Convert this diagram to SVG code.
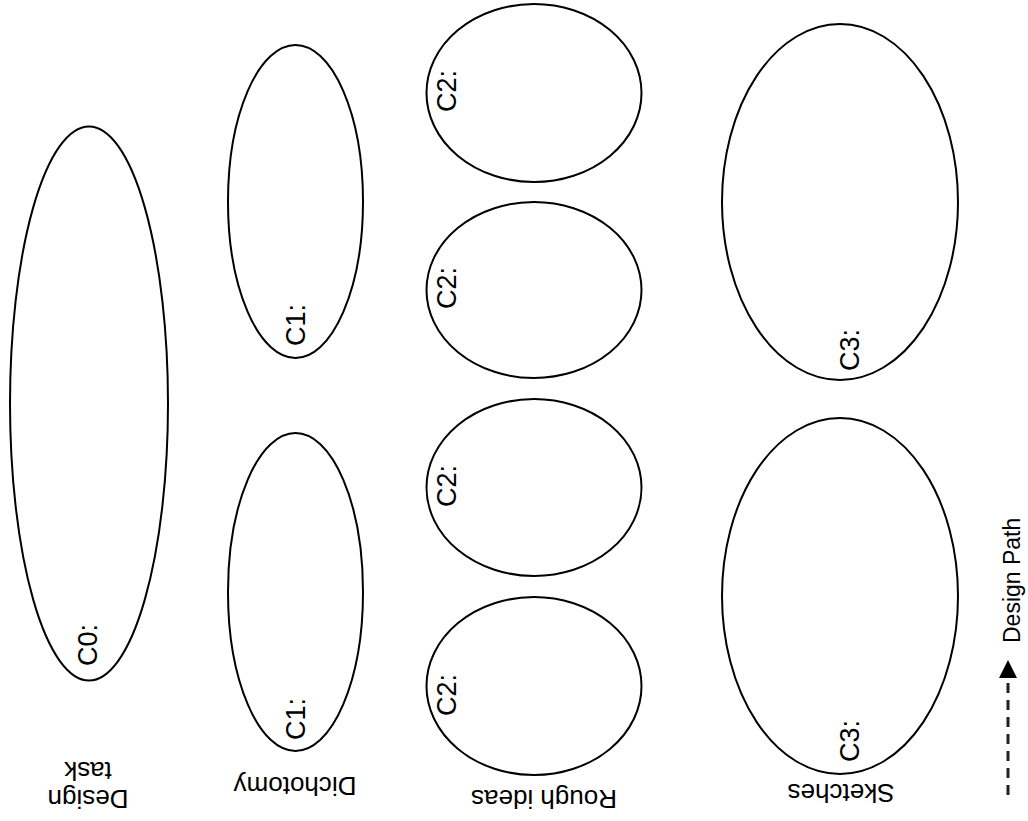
<svg xmlns="http://www.w3.org/2000/svg" width="1028" height="821" viewBox="0 0 1028 821">
<style>
.n{fill:#fff;stroke:#000;stroke-width:2}
.t{font-family:"Liberation Sans",Arial,sans-serif;font-size:26px;fill:#000}
.c{font-family:"Liberation Sans",Arial,sans-serif;font-size:27px;fill:#000}
.p{font-family:"Liberation Sans",Arial,sans-serif;font-size:23px;fill:#000}
.conn{stroke:#222;stroke-width:3;fill:none;stroke-dasharray:10 7}
</style>
<defs>
<marker id="ah" markerWidth="6" markerHeight="6" refX="0" refY="3" orient="auto" markerUnits="strokeWidth" viewBox="0 0 6 6">
<path d="M0,0 L6,3 L0,6 z" fill="#000"/>
</marker>
</defs>
<rect width="1028" height="821" fill="#fff"/>
<g id="c0"><ellipse class="n" cx="89" cy="403.5" rx="79" ry="277"/><text class="c" transform="translate(97,666) rotate(-90)">C0:</text></g>
<g id="c1a"><ellipse class="n" cx="295.5" cy="201.5" rx="67.5" ry="156.5"/><text class="c" transform="translate(305,346) rotate(-90)">C1:</text></g>
<g id="c1b"><ellipse class="n" cx="295.5" cy="592" rx="67.5" ry="159"/><text class="c" transform="translate(305,740) rotate(-90)">C1:</text></g>
<g id="c2a"><ellipse class="n" cx="534" cy="93" rx="107.5" ry="89"/><text class="c" transform="translate(456,112) rotate(-90)">C2:</text></g>
<g id="c2b"><ellipse class="n" cx="534" cy="290" rx="107.5" ry="88"/><text class="c" transform="translate(456,309) rotate(-90)">C2:</text></g>
<g id="c2c"><ellipse class="n" cx="534" cy="487.5" rx="107.5" ry="88.5"/><text class="c" transform="translate(456,507) rotate(-90)">C2:</text></g>
<g id="c2d"><ellipse class="n" cx="534" cy="686" rx="107.5" ry="89"/><text class="c" transform="translate(456,716) rotate(-90)">C2:</text></g>
<g id="c3a"><ellipse class="n" cx="840" cy="202" rx="118" ry="178"/><text class="c" transform="translate(859,371) rotate(-90)">C3:</text></g>
<g id="c3b"><ellipse class="n" cx="840" cy="596" rx="118" ry="178"/><text class="c" transform="translate(859,762) rotate(-90)">C3:</text></g>
<g id="labels">
<text class="t" text-anchor="middle" transform="translate(88,790) rotate(180)"><tspan x="0" y="0">Design</tspan><tspan x="0" y="28">task</tspan></text>
<text class="t" text-anchor="middle" transform="translate(295,777) rotate(180)">Dichotomy</text>
<text class="t" text-anchor="middle" transform="translate(544,790) rotate(180)">Rough ideas</text>
<text class="t" text-anchor="middle" transform="translate(841,784) rotate(180)">Sketches</text>
<text class="p" transform="translate(1020,643) rotate(-90)">Design Path</text>
</g>
<g id="connectors">
<line class="conn" x1="1008" y1="795" x2="1008" y2="678" marker-end="url(#ah)"/>
</g>
</svg>
